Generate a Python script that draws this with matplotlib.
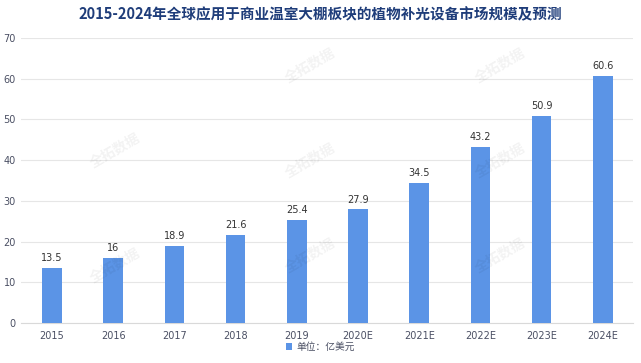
import matplotlib
matplotlib.use("Agg")
import matplotlib.pyplot as plt

plt.rcParams['font.family'] = ['Noto Sans CJK SC', 'DejaVu Sans']

categories = ["2015", "2016", "2017", "2018", "2019", "2020E", "2021E", "2022E", "2023E", "2024E"]
values = [13.5, 16, 18.9, 21.6, 25.4, 27.9, 34.5, 43.2, 50.9, 60.6]
labels = ["13.5", "16", "18.9", "21.6", "25.4", "27.9", "34.5", "43.2", "50.9", "60.6"]

fig = plt.figure(figsize=(6.41, 3.63), dpi=100)
ax = fig.add_axes([21.4/641, 1-323/363, 612/641, (323-38)/363])

bar_color = "#5b94e6"
x = range(len(categories))
bars = ax.bar(x, values, width=0.32, color=bar_color, label="单位：亿美元", zorder=3)
for xi, v, lab in zip(x, values, labels):
    ax.text(xi, v + 1.2, lab, ha="center", va="bottom", fontsize=7, color="#333333",
            family=['DejaVu Sans'], zorder=4)

ax.set_xlim(-0.5, len(categories) - 0.5)
ax.set_ylim(0, 70)
ax.set_yticks(range(0, 71, 10))
ax.set_xticks(list(x))
ax.set_xticklabels(categories)
ax.tick_params(axis='both', length=0, labelsize=7, colors="#4a4f63")
for lab in ax.get_xticklabels() + ax.get_yticklabels():
    lab.set_family(['DejaVu Sans'])
ax.tick_params(axis='x', pad=6)
ax.tick_params(axis='y', pad=4)
ax.grid(axis='y', color="#e6e6e6", linewidth=0.8, zorder=0)
for s in ["top", "right", "left"]:
    ax.spines[s].set_visible(False)
ax.spines["bottom"].set_color("#d9d9d9")

fig.text(0.5, 1-14/363, "2015-2024年全球应用于商业温室大棚板块的植物补光设备市场规模及预测",
         ha="center", va="center", fontsize=10.5, fontweight="bold", color="#1f3d7a")

# watermarks
for (wx, wy) in [(115, 150), (310, 65), (310, 160), (310, 255), (500, 65), (500, 160), (500, 255), (115, 265)]:
    fig.text(wx/641, 1-wy/363, "全拓数据", rotation=30, ha="center", va="center",
             fontsize=10, color="#000000", alpha=0.05, fontweight="bold")

leg = fig.legend(handles=[bars], labels=["单位：亿美元"], loc="center",
                 bbox_to_anchor=(0.5, 1-347/363), frameon=False, fontsize=7,
                 handlelength=0.6, handleheight=0.6, handletextpad=0.4)
for t in leg.get_texts():
    t.set_color("#4a4f63")

fig.savefig("out.png", dpi=100)
